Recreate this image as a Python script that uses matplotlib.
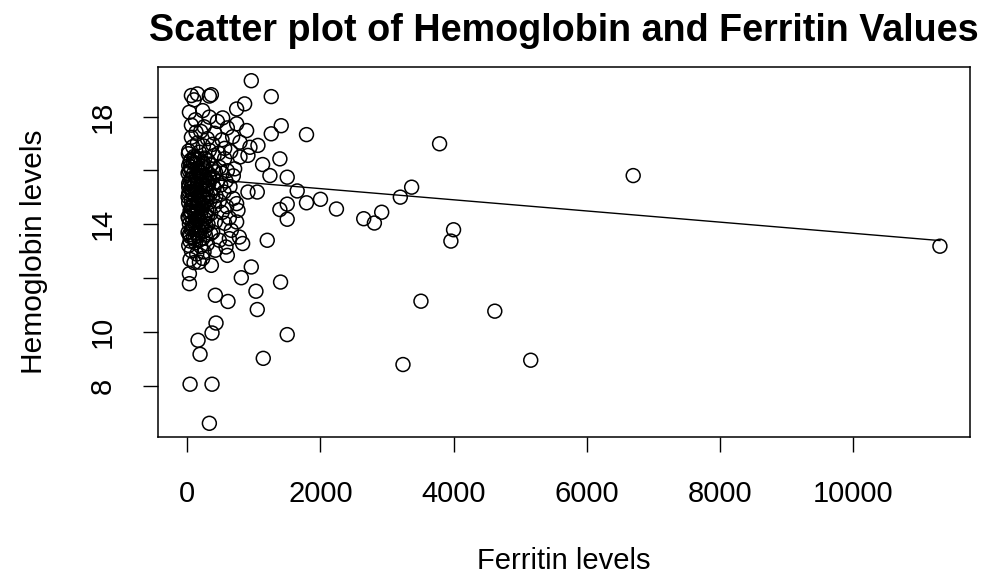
import numpy as np
import matplotlib
matplotlib.use('Agg')
import matplotlib.pyplot as plt

plt.rcParams['font.family'] = ['Liberation Sans', 'DejaVu Sans']

# values, one line per band of hemoglobin
ferritin = [
    960, 60, 150, 360, 330, 1260, 100, 860,
    30, 230, 740, 330, 530, 120, 450,
    740, 60, 250, 600, 1410, 130, 890, 410, 200,
    1260, 1790, 60, 300, 520, 680, 790, 150, 380, 3790,
    1060, 940, 80, 240, 560, 20, 180, 330, 470, 650,
    790, 910, 100, 260, 400, 1390, 50, 150, 310, 560,
    90, 200, 40, 1130, 710, 20, 120, 220, 350, 480,
    140, 260, 380, 60, 170, 280, 420, 600, 10, 90,
    200, 330, 520, 1240, 1500, 130, 250, 380, 690, 6700,
    60, 210, 340, 40, 160, 290, 450, 580, 20, 110,
    210, 320, 500, 70, 180, 270, 400, 640, 3370, 110,
    280, 50, 1050, 910, 1650, 30, 140, 240, 350, 550,
    90, 190, 300, 430, 10, 120, 230, 380, 690, 3200,
    60, 170, 280, 480, 2000, 1500, 1790, 20, 150, 330, 740,
    90, 240, 410, 590, 70, 220, 130,
    760, 1390, 40, 160, 290, 2240, 110, 200, 350, 520, 2920,
    50, 170, 300, 1500, 2650, 20, 140, 260, 630,
    740, 2810, 80, 190, 420, 30, 120, 310, 560, 90, 210,
    660, 60, 170, 260, 4000, 10, 140, 380, 30, 160, 270,
    780, 630, 90, 230, 1200, 480, 40, 180, 3960, 830, 120, 300,
    580, 20, 200, 11310, 60, 250, 420, 600, 140, 230, 40, 180, 100, 360,
    960, 30, 810, 1400, 30, 1030, 420, 610, 3510,
    1050, 4620, 430, 370, 1500, 160, 190, 1140, 5160, 3240, 40, 370, 330,
    15, 110, 240, 45, 180, 330, 70, 260, 150, 20, 300, 90,
    200, 50, 130, 270, 10, 160, 230, 80, 350, 40, 190, 110,
    100, 220, 30, 140, 310, 70, 250, 170, 60, 120, 280, 20,
]
hemoglobin = [
    19.33, 18.78, 18.84, 18.81, 18.76, 18.74, 18.62, 18.47,
    18.16, 18.22, 18.28, 17.98, 17.95, 17.88, 17.82,
    17.73, 17.68, 17.62, 17.58, 17.66, 17.42, 17.48, 17.38, 17.45,
    17.36, 17.33, 17.23, 17.18, 17.14, 17.25, 17.05, 17.02, 16.97, 16.99,
    16.93, 16.86, 16.88, 16.91, 16.82, 16.72, 16.68, 16.75, 16.64, 16.70,
    16.50, 16.56, 16.52, 16.46, 16.55, 16.43, 16.38, 16.41, 16.36, 16.44,
    16.30, 16.28, 16.33, 16.22, 16.06, 16.18, 16.24, 16.15, 16.20, 16.12,
    16.08, 16.10, 16.05, 16.00, 15.97, 16.02, 15.95, 15.99, 15.90, 15.87,
    15.92, 15.86, 15.90, 15.81, 15.75, 15.78, 15.83, 15.76, 15.80, 15.81,
    15.70, 15.72, 15.68, 15.62, 15.60, 15.64, 15.58, 15.61, 15.52, 15.48,
    15.55, 15.50, 15.46, 15.42, 15.38, 15.44, 15.36, 15.40, 15.38, 15.30,
    15.28, 15.33, 15.20, 15.20, 15.24, 15.22, 15.18, 15.25, 15.16, 15.20,
    15.12, 15.08, 15.10, 15.06, 15.02, 14.98, 15.00, 15.04, 14.96, 15.01,
    14.92, 14.88, 14.90, 14.86, 14.93, 14.75, 14.80, 14.80, 14.78, 14.82, 14.77,
    14.70, 14.72, 14.68, 14.66, 14.62, 14.58, 14.60,
    14.52, 14.55, 14.50, 14.48, 14.53, 14.57, 14.42, 14.38, 14.40, 14.44, 14.45,
    14.32, 14.28, 14.30, 14.19, 14.21, 14.22, 14.18, 14.20, 14.24,
    14.09, 14.05, 14.12, 14.08, 14.10, 14.02, 13.98, 14.00, 14.04, 13.92, 13.88,
    13.78, 13.82, 13.80, 13.76, 13.80, 13.70, 13.68, 13.72, 13.62, 13.58, 13.60,
    13.53, 13.47, 13.50, 13.48, 13.41, 13.41, 13.38, 13.42, 13.38, 13.29, 13.32, 13.28,
    13.16, 13.22, 13.18, 13.19, 13.02, 12.98, 13.04, 12.85, 12.90, 12.74, 12.70, 12.60, 12.58, 12.48,
    12.42, 12.17, 12.02, 11.86, 11.80, 11.52, 11.37, 11.14, 11.15,
    10.84, 10.78, 10.34, 9.97, 9.91, 9.70, 9.18, 9.03, 8.96, 8.80, 8.07, 8.07, 6.62,
    16.62, 16.47, 16.26, 16.14, 15.93, 15.73, 15.57, 15.41, 15.27, 15.14, 14.94, 14.84,
    14.71, 14.63, 14.46, 14.36, 14.27, 14.16, 13.96, 13.86, 13.66, 13.55, 13.74, 13.44,
    16.42, 16.16, 15.98, 15.66, 15.53, 15.17, 14.97, 14.74, 14.44, 14.14, 13.94, 15.38,
]
assert len(ferritin) == len(hemoglobin)

# fitted line as it appears in the picture
fit_intercept = 15.74
fit_slope = -0.000207

x_ticks = [0, 2000, 4000, 6000, 8000, 10000]
y_ticks = [8, 10, 12, 14, 16, 18]
y_tick_labels = ['8', '10', '', '14', '', '18']

x = np.array(ferritin, dtype=float)
y = np.array(hemoglobin, dtype=float)

fig = plt.figure(figsize=(9.92, 5.83), dpi=100)
ax = fig.add_axes([158/992, 1 - 437/583, (970 - 158)/992, (437 - 67)/583])

ax.scatter(x, y, s=100, facecolors='none', edgecolors='black', linewidths=1.1)

xl = np.array([x.min(), x.max()])
ax.plot(xl, fit_intercept + fit_slope*xl, color='black', lw=1.0)

# R style 4% padding
xpad = 0.04*(x.max() - x.min())
ypad = 0.04*(y.max() - y.min())
ax.set_xlim(x.min() - xpad, x.max() + xpad)
ax.set_ylim(y.min() - ypad, y.max() + ypad)

ax.set_xticks(x_ticks)
ax.set_xticklabels([str(t) for t in x_ticks])
ax.set_yticks(y_ticks)
ax.set_yticklabels(y_tick_labels, rotation=90, va='center')
ax.tick_params(axis='both', direction='out', length=11, width=1.0,
               labelsize=21, color='black')
ax.tick_params(axis='x', pad=20)
ax.tick_params(axis='y', pad=19)
for sp in ax.spines.values():
    sp.set_linewidth(1.1)
    sp.set_color('black')

ax.set_title('Scatter plot of Hemoglobin and Ferritin Values',
             fontsize=27.2, fontweight='bold', pad=19)
ax.set_xlabel('Ferritin levels', fontsize=21, labelpad=28)
ax.set_ylabel('Hemoglobin levels', fontsize=21.5, labelpad=29)

fig.savefig('out.png', dpi=100)
